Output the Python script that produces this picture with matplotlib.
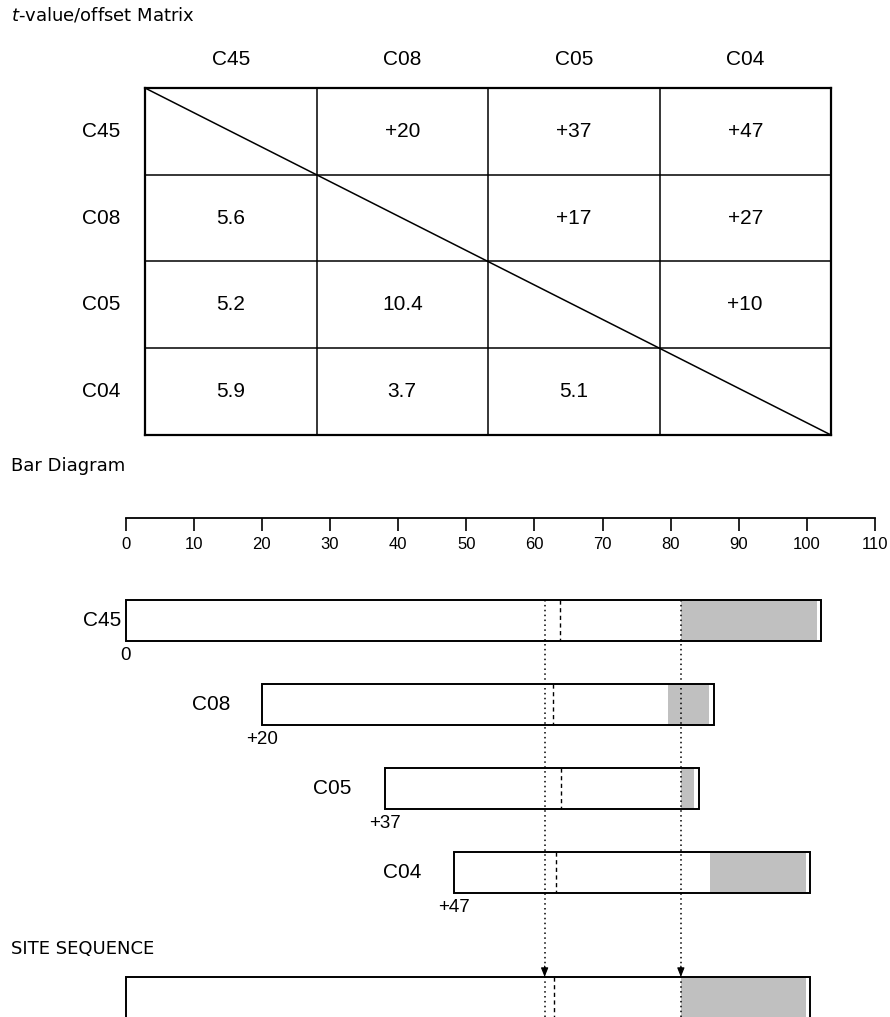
import matplotlib
matplotlib.use("Agg")
import matplotlib.pyplot as plt
from matplotlib.patches import Rectangle
from matplotlib import font_manager

# ---------------- data ----------------
names = ["C45", "C08", "C05", "C04"]
# lower triangle: t-values, upper triangle: offsets (row, col)
t_values = {(1, 0): "5.6", (2, 0): "5.2", (2, 1): "10.4",
            (3, 0): "5.9", (3, 1): "3.7", (3, 2): "5.1"}
offsets = {(0, 1): "+20", (0, 2): "+37", (0, 3): "+47",
           (1, 2): "+17", (1, 3): "+27", (2, 3): "+10"}

bar_start = [0, 20, 38.1, 48.2]
bar_end = [102.1, 86.3, 84.1, 100.4]
gray_start = [81.5, 79.6, 81.5, 85.8]
gray_end = [101.5, 85.6, 83.5, 99.8]
dashed_pos = [63.8, 62.8, 63.9, 63.2]
offset_labels = ["0", "+20", "+37", "+47"]
name_label_x = [-0.6, 15.3, 33.2, 43.4]

site_start, site_end = 0, 100.4
site_gray = (81.5, 99.8)
site_dashed = 62.9
marker_lines = [61.5, 81.5]

ruler_ticks = list(range(0, 111, 10))

# ---------------- fonts ----------------
avail = {f.name for f in font_manager.fontManager.ttflist}
ARIAL = "Liberation Sans"
NARROW = "Liberation Sans Narrow" if "Liberation Sans Narrow" in avail else "Liberation Sans"
GOTHIC = "DejaVu Sans"
plt.rcParams["mathtext.fontset"] = "dejavusans"

W, H = 890, 1017
fig = plt.figure(figsize=(W / 100, H / 100), dpi=100)


def fx(x):
    return x / W


def fy(y):
    return 1 - y / H


# ---------------- titles ----------------
fig.text(fx(11), fy(15), "$\\it{t}$-value/offset Matrix", fontsize=13, family=GOTHIC,
         va="center", ha="left")
fig.text(fx(11), fy(466), "Bar Diagram", fontsize=13, family=GOTHIC, va="center")
fig.text(fx(11), fy(949), "SITE SEQUENCE", fontsize=13, family=GOTHIC, va="center")

# ---------------- matrix ----------------
mL, mR, mT, mB = 145, 831, 88, 435
axm = fig.add_axes([fx(mL), fy(mB), (mR - mL) / W, (mB - mT) / H])
axm.set_xlim(0, 4)
axm.set_ylim(4, 0)
axm.axis("off")
n = len(names)
for i in range(n + 1):
    lw = 1.6 if i in (0, n) else 1.1
    axm.plot([i, i], [0, n], color="black", lw=lw, solid_capstyle="projecting", clip_on=False)
    axm.plot([0, n], [i, i], color="black", lw=lw, solid_capstyle="projecting", clip_on=False)
axm.plot([0, n], [0, n], color="black", lw=1.1, clip_on=False)
for j, nm in enumerate(names):
    axm.text(j + 0.5, -0.33, nm, ha="center", va="center", fontsize=15, family=ARIAL,
             clip_on=False)
    axm.text(-0.257, j + 0.5, nm, ha="center", va="center", fontsize=15, family=ARIAL,
             clip_on=False)
for (r, c), s in list(t_values.items()) + list(offsets.items()):
    axm.text(c + 0.5, r + 0.5, s, ha="center", va="center", fontsize=15, family=ARIAL)

# ---------------- ruler ----------------
x0px, x110px = 125.7, 875.0
axr = fig.add_axes([fx(x0px), fy(518), (x110px - x0px) / W, 0.0001])
axr.set_xlim(0, 110)
for s in ("top", "left", "right"):
    axr.spines[s].set_visible(False)
axr.spines["bottom"].set_linewidth(1.3)
axr.set_yticks([])
axr.set_xticks(ruler_ticks)
axr.set_xticklabels([str(t) for t in ruler_ticks])
axr.tick_params(axis="x", direction="out", length=9.4, width=1.2, pad=4,
                labelsize=12)
for lab in axr.get_xticklabels():
    lab.set_family(NARROW)
axr.patch.set_visible(False)

# ---------------- bars ----------------
row_px, row0_px, top_px = 84.0, 620.5, 560
axb = fig.add_axes([fx(x0px), 0, (x110px - x0px) / W, (H - top_px) / H])
axb.set_xlim(0, 110)
ybot = (H - row0_px) / row_px
axb.set_ylim(ybot, (top_px - row0_px) / row_px)
axb.axis("off")
axb.patch.set_visible(False)
h = 20.5 / row_px


def draw_bar(row, s, e, gs, ge, d):
    axb.add_patch(Rectangle((s, row - h), e - s, 2 * h, fc="white", ec="none"))
    axb.add_patch(Rectangle((gs, row - h), ge - gs, 2 * h, fc="#c0c0c0", ec="none"))
    axb.plot([d, d], [row - h, row + h], color="black", lw=1.0, ls=(0, (3, 2.5)))
    axb.add_patch(Rectangle((s, row - h), e - s, 2 * h, fc="none", ec="black",
                            lw=1.4, clip_on=False, zorder=5))


for i in range(n):
    draw_bar(i, bar_start[i], bar_end[i], gray_start[i], gray_end[i], dashed_pos[i])
    axb.text(name_label_x[i], i, names[i], ha="right", va="center", fontsize=15,
             family=ARIAL)
    axb.text(bar_start[i], i + h + 15 / row_px, offset_labels[i], ha="center",
             va="center", fontsize=13.5, family=NARROW)

site_row = (977 - row0_px) / row_px + h
draw_bar(site_row, site_start, site_end, site_gray[0], site_gray[1], site_dashed)

for xm in marker_lines:
    axb.plot([xm, xm], [-h, ybot], color="black", lw=1.1, ls=(0, (1, 2.2)),
             zorder=6)
    axb.annotate("", xy=(xm, site_row - h), xytext=(xm, site_row - h - 0.13),
                 arrowprops=dict(arrowstyle="-|>,head_length=0.55,head_width=0.22",
                                 lw=0.8, color="black", shrinkA=0, shrinkB=0),
                 zorder=7)

fig.savefig("out.png", dpi=100)
